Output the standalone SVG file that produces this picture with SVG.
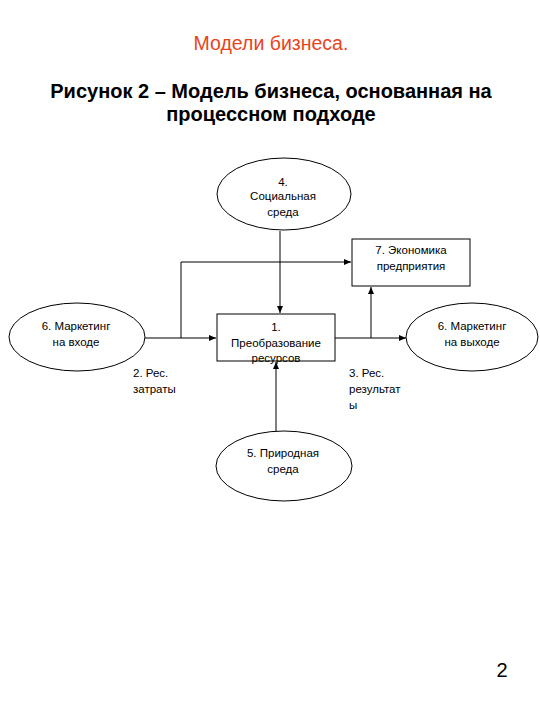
<svg xmlns="http://www.w3.org/2000/svg" width="540" height="720" viewBox="0 0 540 720">
<defs>
<marker id="ah" markerWidth="8" markerHeight="8" refX="7" refY="4" orient="auto" markerUnits="userSpaceOnUse">
<path d="M0,1 L7,4 L0,7 z" fill="#000"/>
</marker>
<style>
.t{font-family:"Liberation Sans",Arial,sans-serif;font-size:11.5px;fill:#000;text-anchor:middle}
.s{fill:#fff;stroke:#000;stroke-width:1}
.c{fill:none;stroke:#000;stroke-width:1}
</style>
</defs>
<rect width="540" height="720" fill="#fff"/>
<text x="271" y="50" style="font-family:'Liberation Sans',Arial,sans-serif;font-size:19.5px;fill:#e8441c;text-anchor:middle">Модели бизнеса.</text>
<text x="271" y="98" style="font-family:'Liberation Sans',Arial,sans-serif;font-size:20px;font-weight:bold;text-anchor:middle">Рисунок 2 – Модель бизнеса, основанная на</text>
<text x="271" y="121" style="font-family:'Liberation Sans',Arial,sans-serif;font-size:20px;font-weight:bold;text-anchor:middle">процессном подходе</text>
<text x="502" y="677" style="font-family:'Liberation Sans',Arial,sans-serif;font-size:20px;text-anchor:middle">2</text>
<g id="connectors">
<path class="c" d="M280,231 V313" marker-end="url(#ah)"/>
<path class="c" d="M276,431 V362" marker-end="url(#ah)"/>
<path class="c" d="M145,338 H216" marker-end="url(#ah)"/>
<path class="c" d="M181,338 V262 H351" marker-end="url(#ah)"/>
<path class="c" d="M335,338 H406" marker-end="url(#ah)"/>
<path class="c" d="M371,338 V287" marker-end="url(#ah)"/>
</g>
<g id="n4">
<ellipse class="s" cx="284" cy="194" rx="67" ry="36"/>
<text class="t" x="283" y="186">4.</text>
<text class="t" x="283" y="200">Социальная</text>
<text class="t" x="283" y="216">среда</text>
</g>
<g id="n7">
<rect class="s" x="352" y="239" width="118" height="47"/>
<text class="t" x="411" y="254">7. Экономика</text>
<text class="t" x="411" y="270">предприятия</text>
</g>
<g id="n1">
<rect class="s" x="217" y="314" width="118" height="47"/>
<text class="t" x="276" y="331">1.</text>
<text class="t" x="276" y="347">Преобразование</text>
<text class="t" x="276" y="362">ресурсов</text>
</g>
<g id="n6a">
<ellipse class="s" cx="77" cy="337" rx="68" ry="34"/>
<text class="t" x="76" y="330">6. Маркетинг</text>
<text class="t" x="76" y="346">на входе</text>
</g>
<g id="n6b">
<ellipse class="s" cx="472" cy="337" rx="66" ry="34"/>
<text class="t" x="472" y="330">6. Маркетинг</text>
<text class="t" x="472" y="346">на выходе</text>
</g>
<g id="n5">
<ellipse class="s" cx="284" cy="466" rx="68" ry="35"/>
<text class="t" x="283" y="457">5. Природная</text>
<text class="t" x="283" y="473">среда</text>
</g>
<g id="labels">
<text class="t" style="text-anchor:start" x="133" y="377">2. Рес.</text>
<text class="t" style="text-anchor:start" x="133" y="393">затраты</text>
<text class="t" style="text-anchor:start" x="349" y="377">3. Рес.</text>
<text class="t" style="text-anchor:start" x="349" y="393">результат</text>
<text class="t" style="text-anchor:start" x="349" y="409">ы</text>
</g>
</svg>
